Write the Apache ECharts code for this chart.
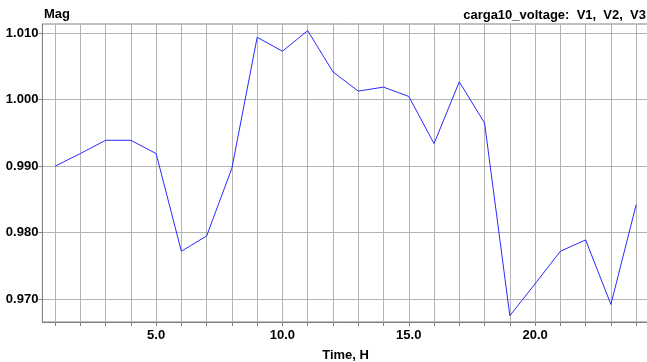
<!DOCTYPE html>
<html>
<head>
<meta charset="utf-8">
<script src="https://cdn.jsdelivr.net/npm/echarts@6/dist/echarts.min.js"></script>
<style>html,body{margin:0;padding:0;background:#fff;}#c{width:647px;height:362px;}</style>
</head>
<body>
<div id="c"></div>
<script>
const hours = [1,2,3,4,5,6,7,8,9,10,11,12,13,14,15,16,17,18,19,20,21,22,23,24];
const magV = [0.9900,0.9919,0.9939,0.9939,0.9919,0.9772,0.9795,0.9897,1.0094,1.0073,1.0104,1.0042,1.0013,1.0019,1.0005,0.9934,1.0027,0.9965,0.9675,0.9723,0.9772,0.9789,0.9692,0.9842];
const yTicks = [0.970,0.980,0.990,1.000,1.010];
const xLabelTicks = [5,10,15,20];
const titleText = 'carga10_voltage:  V1,  V2,  V3';
const yName = 'Mag';
const xName = 'Time, H';

const font = 'Liberation Sans, Arial, sans-serif';
const chart = echarts.init(document.getElementById('c'), null, {renderer:'canvas'});
chart.setOption({
  animation: false,
  backgroundColor: '#fff',
  grid: {left: 42.4, right: -1.8, top: 24, bottom: 40, show: true, borderColor: '#808080', borderWidth: 1,
    backgroundColor: 'transparent', containLabel: false, outerBoundsMode: 'none'},
  graphic: [
    {type:'text', left: 44, top: 8, style:{text: yName, font: 'bold 13px ' + font, fill:'#000'}},
    {type:'text', right: 1, top: 9, style:{text: titleText, font: 'bold 13px ' + font, fill:'#000'}}
  ],
  xAxis: {
    type: 'value', min: 0.5, max: 24.5,
    name: xName, nameLocation: 'middle', nameGap: 27,
    nameTextStyle: {fontFamily: font, fontWeight: 'bold', fontSize: 13, color:'#000', verticalAlign:'top'},
    axisLine: {show: true, lineStyle: {color: '#808080', width: 1}},
    axisTick: {show: true, length: 4, customValues: hours, lineStyle:{color:'#808080'}},
    axisLabel: {customValues: xLabelTicks, margin: 7, fontFamily: font, fontWeight:'bold', fontSize: 13, color:'#000',
      formatter: v => v.toFixed(1)},
    splitLine: {show: true, lineStyle: {color: '#b4b4b4', width: 1}}
  },
  yAxis: {
    type: 'value', min: 0.96655, max: 1.0114,
    axisLine: {show: true, lineStyle: {color: '#808080', width: 1}},
    axisTick: {show: true, length: 4, customValues: yTicks, lineStyle:{color:'#808080'}},
    axisLabel: {customValues: yTicks, margin: 4, fontFamily: font, fontWeight:'bold', fontSize: 13, color:'#000',
      formatter: v => v.toFixed(3)},
    splitLine: {show: true, lineStyle: {color: '#b4b4b4', width: 1}}
  },
  series: [{
    type: 'line',
    data: hours.map((h,i) => [h, magV[i]]),
    symbol: 'none',
    lineStyle: {color: '#2a2aff', width: 1},
    itemStyle: {color: '#2a2aff'}
  }]
});
</script>
</body>
</html>
